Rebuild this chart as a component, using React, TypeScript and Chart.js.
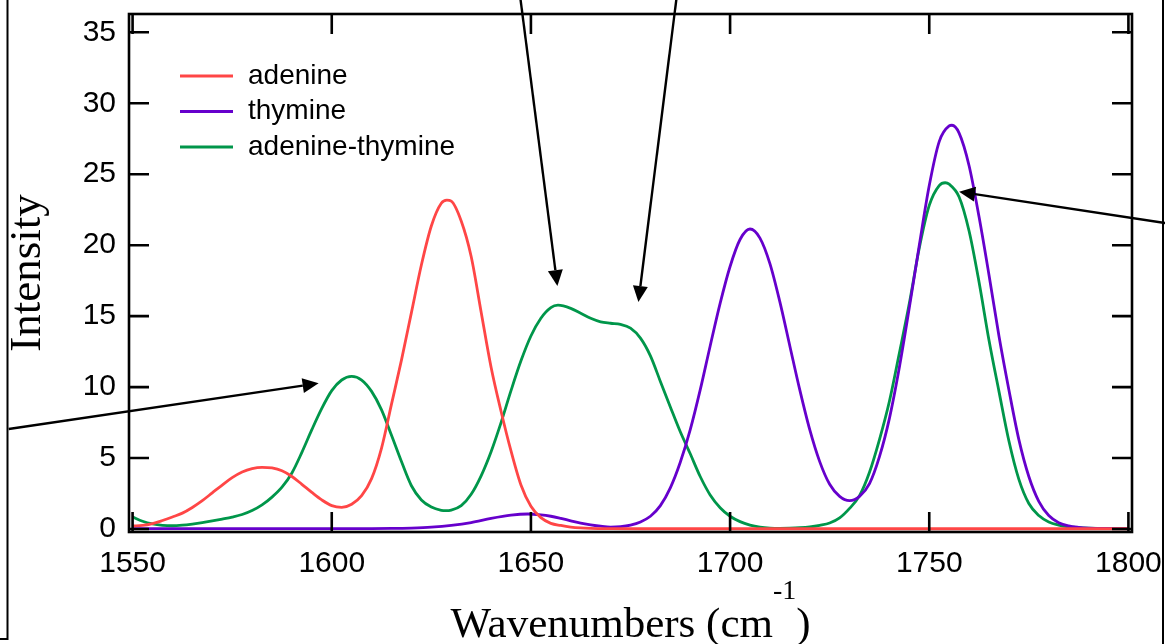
import React, { useEffect, useRef } from "react";
import { Chart, registerables } from "chart.js";

Chart.register(...registerables);

// ---- axis ranges & ticks ----
const X_MIN = 1549.1;
const X_MAX = 1800.9;
const Y_MIN = -0.21;
const Y_MAX = 36.29;
const xTickValues = [1550, 1600, 1650, 1700, 1750, 1800];
const yTickValues = [0, 5, 10, 15, 20, 25, 30, 35];

// ---- series ----
const seriesNames = ["adenine", "thymine", "adenine-thymine"];
const seriesColors = ["#ff4646", "#6600cc", "#00964a"];

const adenineWn = [1550, 1552.5, 1555, 1557.5, 1560, 1562.5, 1565, 1567.5, 1570, 1572.5,
  1575, 1577.5, 1580, 1582.5, 1585, 1587.5, 1590, 1592.5, 1595, 1597.5,
  1600, 1602.5, 1605, 1607.5, 1610, 1612.5, 1615, 1617.5, 1620, 1622.5,
  1625, 1627.5, 1628.9, 1630, 1632.5, 1635, 1637.5, 1640, 1642.5, 1645,
  1647.5, 1650, 1652.5, 1655, 1657.5, 1660, 1662.5, 1665, 1670, 1680,
  1720, 1800];
const adenineInt = [0.22, 0.25, 0.38, 0.6, 0.85, 1.12, 1.52, 2.0, 2.55, 3.1,
  3.62, 4.02, 4.26, 4.35, 4.3, 4.1, 3.7, 3.15, 2.58, 2.05,
  1.65, 1.53, 1.75, 2.35, 3.55, 5.7, 8.8, 11.9, 15.25, 18.6,
  21.35, 22.95, 23.17, 23.1, 21.7, 19.2, 15.3, 11.4, 8.3, 5.5,
  3.1, 1.6, 0.8, 0.4, 0.25, 0.14, 0.08, 0.05, 0.03, 0.02,
  0.02, 0.02];

const thymineWn = [1550, 1575, 1600, 1610, 1615, 1620, 1625, 1630, 1635, 1640,
  1645, 1649.2, 1652.5, 1655, 1657.5, 1660, 1662.5, 1665, 1667.5, 1670,
  1672.5, 1675, 1677.5, 1680, 1682.5, 1685, 1687.5, 1690, 1692.5, 1695,
  1697.5, 1700, 1702.5, 1705, 1707.5, 1710, 1712.5, 1715, 1717.5, 1720,
  1722.5, 1725, 1727.5, 1730, 1732.5, 1735, 1737.5, 1740, 1742.5, 1745,
  1747.5, 1750, 1752.5, 1755, 1755.7, 1757.5, 1760, 1762.5, 1765, 1767.5,
  1770, 1772.5, 1775, 1777.5, 1780, 1782.5, 1785, 1787.5, 1790, 1795,
  1800];
const thymineInt = [0.03, 0.03, 0.03, 0.03, 0.04, 0.07, 0.13, 0.25, 0.45, 0.75,
  0.98, 1.06, 1.0, 0.9, 0.75, 0.58, 0.42, 0.3, 0.2, 0.14,
  0.17, 0.28, 0.5, 0.9, 1.65, 2.9, 4.7, 7.0, 9.8, 12.9,
  15.9, 18.5, 20.4, 21.14, 20.5, 18.7, 16.0, 12.9, 9.8, 7.0,
  4.75, 3.15, 2.3, 2.0, 2.3, 3.2, 5.1, 7.8, 11.4, 15.6,
  20.0, 24.2, 27.3, 28.4, 28.45, 27.9, 25.6, 22.0, 17.9, 13.6,
  9.8, 6.3, 3.7, 1.95, 0.95, 0.45, 0.22, 0.12, 0.07, 0.04,
  0.03];

const pairWn = [1550, 1552.5, 1555, 1557.5, 1560, 1562.5, 1565, 1567.5, 1570, 1572.5,
  1575, 1577.5, 1580, 1582.5, 1585, 1587.5, 1590, 1592.5, 1595, 1597.5,
  1600, 1602.5, 1605, 1607.5, 1610, 1612.5, 1615, 1617.5, 1620, 1622.5,
  1625, 1627.5, 1628.6, 1630, 1632.5, 1635, 1637.5, 1640, 1642.5, 1645,
  1647.5, 1650, 1652.5, 1655, 1656.8, 1660, 1662.5, 1665, 1667.5, 1670,
  1672.5, 1675, 1677.5, 1680, 1682.5, 1685, 1687.5, 1690, 1692.5, 1695,
  1697.5, 1700, 1702.5, 1705, 1707.5, 1710, 1712.5, 1715, 1717.5, 1720,
  1722.5, 1725, 1727.5, 1730, 1732.5, 1735, 1737.5, 1740, 1742.5, 1745,
  1747.5, 1750, 1752.5, 1754, 1755, 1757.5, 1760, 1762.5, 1765, 1767.5,
  1770, 1772.5, 1775, 1777.5, 1780, 1782.5, 1785, 1787.5, 1790, 1795,
  1800];
const pairInt = [0.85, 0.55, 0.36, 0.26, 0.23, 0.27, 0.35, 0.45, 0.57, 0.7,
  0.84, 1.02, 1.3, 1.7, 2.25, 2.95, 3.95, 5.4, 7.0, 8.5,
  9.75, 10.5, 10.75, 10.5, 9.7, 8.4, 6.6, 4.75, 3.05, 2.05,
  1.55, 1.32, 1.29, 1.33, 1.65, 2.45, 3.75, 5.45, 7.5, 9.75,
  11.85, 13.6, 14.85, 15.6, 15.77, 15.55, 15.2, 14.85, 14.6, 14.5,
  14.42, 14.15, 13.45, 12.2, 10.4, 8.6, 6.85, 5.3, 3.7, 2.4,
  1.5, 0.9, 0.52, 0.28, 0.14, 0.07, 0.05, 0.06, 0.09, 0.15,
  0.26, 0.42, 0.78, 1.45, 2.35, 4.0, 6.3, 9.0, 12.4, 15.9,
  19.8, 22.8, 24.2, 24.4, 24.3, 23.4, 21.0, 17.4, 13.3, 9.7,
  6.2, 3.5, 1.8, 0.95, 0.5, 0.28, 0.16, 0.1, 0.07, 0.04,
  0.03];

// ---- annotation arrows (data coordinates: wavenumber, intensity) ----
const arrowTails = [[1518.9, 7.05], [1647.4, 37.3], [1686.5, 37.3], [1809.2, 21.56]];
const arrowTips = [[1596.7, 10.27], [1656.65, 17.12], [1676.98, 16.0], [1757.5, 23.77]];

// ---- texts ----
const yTitle = "Intensity";
const xTitleMain = "Wavenumbers (cm";
const xTitleSup = "-1";
const xTitleEnd = ")";

const SANS = "'Liberation Sans', Arial, sans-serif";
const SERIF = "'Liberation Serif', 'Times New Roman', serif";

const toPoints = (xs: number[], ys: number[]) => xs.map((x, i) => ({ x, y: ys[i] }));

const decorPlugin = {
  id: "decor",
  afterDatasetsDraw(chart: any) {
    const ctx = chart.ctx as CanvasRenderingContext2D;
    const { left, right, top, bottom } = chart.chartArea;
    const xs = chart.scales.x;
    const ys = chart.scales.y;
    ctx.save();

    // plot frame
    ctx.strokeStyle = "#000";
    ctx.lineWidth = 2.6;
    ctx.strokeRect(left, top, right - left, bottom - top);

    // inward ticks on all four sides
    ctx.lineWidth = 2.6;
    ctx.beginPath();
    const TL = 20;
    xTickValues.forEach((v) => {
      const px = xs.getPixelForValue(v);
      ctx.moveTo(px, bottom);
      ctx.lineTo(px, bottom - TL);
      ctx.moveTo(px, top);
      ctx.lineTo(px, top + TL);
    });
    yTickValues.forEach((v) => {
      const py = ys.getPixelForValue(v);
      ctx.moveTo(left, py);
      ctx.lineTo(left + TL, py);
      ctx.moveTo(right, py);
      ctx.lineTo(right - TL, py);
    });
    ctx.stroke();

    // legend
    ctx.font = `28px ${SANS}`;
    ctx.textBaseline = "middle";
    ctx.textAlign = "left";
    chart.data.datasets.forEach((ds: any, i: number) => {
      const y = top + 62 + i * 35.5;
      ctx.strokeStyle = ds.borderColor;
      ctx.lineWidth = 3;
      ctx.beginPath();
      ctx.moveTo(left + 51, y);
      ctx.lineTo(left + 104, y);
      ctx.stroke();
      ctx.fillStyle = "#000";
      ctx.fillText(ds.label, left + 119, y);
    });

    // arrows
    ctx.strokeStyle = "#000";
    ctx.fillStyle = "#000";
    ctx.lineWidth = 2.4;
    arrowTails.forEach((t, i) => {
      const x1 = xs.getPixelForValue(t[0]);
      const y1 = ys.getPixelForValue(t[1]);
      const x2 = xs.getPixelForValue(arrowTips[i][0]);
      const y2 = ys.getPixelForValue(arrowTips[i][1]);
      const ang = Math.atan2(y2 - y1, x2 - x1);
      const L = 16, H = 7.5;
      const c = Math.cos(ang), s = Math.sin(ang);
      const bx = x2 - L * c, by = y2 - L * s;
      ctx.beginPath();
      ctx.moveTo(x1, y1);
      ctx.lineTo(bx, by);
      ctx.stroke();
      ctx.beginPath();
      ctx.moveTo(x2, y2);
      ctx.lineTo(bx - H * s, by + H * c);
      ctx.lineTo(bx + H * s, by - H * c);
      ctx.closePath();
      ctx.fill();
    });

    // y title
    ctx.save();
    ctx.font = `45px ${SERIF}`;
    ctx.textAlign = "center";
    ctx.textBaseline = "alphabetic";
    ctx.translate(left - 89, (top + bottom) / 2);
    ctx.rotate(-Math.PI / 2);
    ctx.fillText(yTitle, 0, 0);
    ctx.restore();

    // x title with superscript
    ctx.textAlign = "left";
    ctx.textBaseline = "alphabetic";
    ctx.font = `43px ${SERIF}`;
    const w1 = ctx.measureText(xTitleMain).width;
    const w3 = ctx.measureText(xTitleEnd).width;
    ctx.font = `28px ${SERIF}`;
    const w2 = ctx.measureText(xTitleSup).width;
    const x0 = (left + right) / 2 - (w1 + w2 + w3) / 2;
    const base = bottom + 105;
    ctx.font = `43px ${SERIF}`;
    ctx.fillText(xTitleMain, x0, base);
    ctx.font = `28px ${SERIF}`;
    ctx.fillText(xTitleSup, x0 + w1, base - 38);
    ctx.font = `43px ${SERIF}`;
    ctx.fillText(xTitleEnd, x0 + w1 + w2, base);

    // outer figure frame fragments
    ctx.strokeStyle = "#000";
    ctx.lineWidth = 2;
    ctx.beginPath();
    ctx.moveTo(7.5, 0);
    ctx.lineTo(7.5, chart.height - 5);
    ctx.lineTo(0, chart.height - 5);
    ctx.moveTo(chart.width - 2, 0);
    ctx.lineTo(chart.width - 2, chart.height);
    ctx.stroke();

    ctx.restore();
  },
};

export default function App() {
  const canvasRef = useRef<HTMLCanvasElement | null>(null);

  useEffect(() => {
    const canvas = canvasRef.current;
    if (!canvas) return;
    const seriesX = [adenineWn, thymineWn, pairWn];
    const seriesY = [adenineInt, thymineInt, pairInt];
    const chart = new Chart(canvas, {
      type: "line",
      data: {
        datasets: seriesNames.map((name, i) => ({
          label: name,
          data: toPoints(seriesX[i], seriesY[i]),
          borderColor: seriesColors[i],
          backgroundColor: seriesColors[i],
          borderWidth: 2.8,
          pointRadius: 0,
          fill: false,
          cubicInterpolationMode: "monotone" as const,
        })),
      },
      options: {
        responsive: false,
        animation: false,
        events: [],
        devicePixelRatio: 1,
        layout: { padding: { left: 0, right: 33, top: 14, bottom: 0 } },
        plugins: {
          legend: { display: false },
          tooltip: { enabled: false },
        },
        scales: {
          x: {
            type: "linear",
            min: X_MIN,
            max: X_MAX,
            grid: { display: false, drawTicks: false },
            border: { display: false },
            afterBuildTicks: (s: any) => {
              s.ticks = xTickValues.map((v) => ({ value: v }));
            },
            afterFit: (s: any) => {
              s.height = 112;
              s.paddingLeft = 0;
              s.paddingRight = 0;
            },
            ticks: {
              padding: 14,
              maxRotation: 0,
              autoSkip: false,
              color: "#000",
              font: { family: SANS, size: 30 },
              callback: (v: any) => String(v),
            },
          },
          y: {
            type: "linear",
            min: Y_MIN,
            max: Y_MAX,
            grid: { display: false, drawTicks: false },
            border: { display: false },
            afterBuildTicks: (s: any) => {
              s.ticks = yTickValues.map((v) => ({ value: v }));
            },
            afterFit: (s: any) => {
              s.width = 129;
              s.paddingTop = 0;
              s.paddingBottom = 0;
            },
            ticks: {
              padding: 13,
              autoSkip: false,
              color: "#000",
              font: { family: SANS, size: 30 },
              callback: (v: any) => String(v),
            },
          },
        },
      },
      plugins: [decorPlugin],
    });
    return () => chart.destroy();
  }, []);

  return (
    <div style={{ position: "fixed", left: 0, top: 0, width: 1165, height: 644, background: "#fff" }}>
      <canvas ref={canvasRef} width={1165} height={644} style={{ display: "block" }} />
    </div>
  );
}
